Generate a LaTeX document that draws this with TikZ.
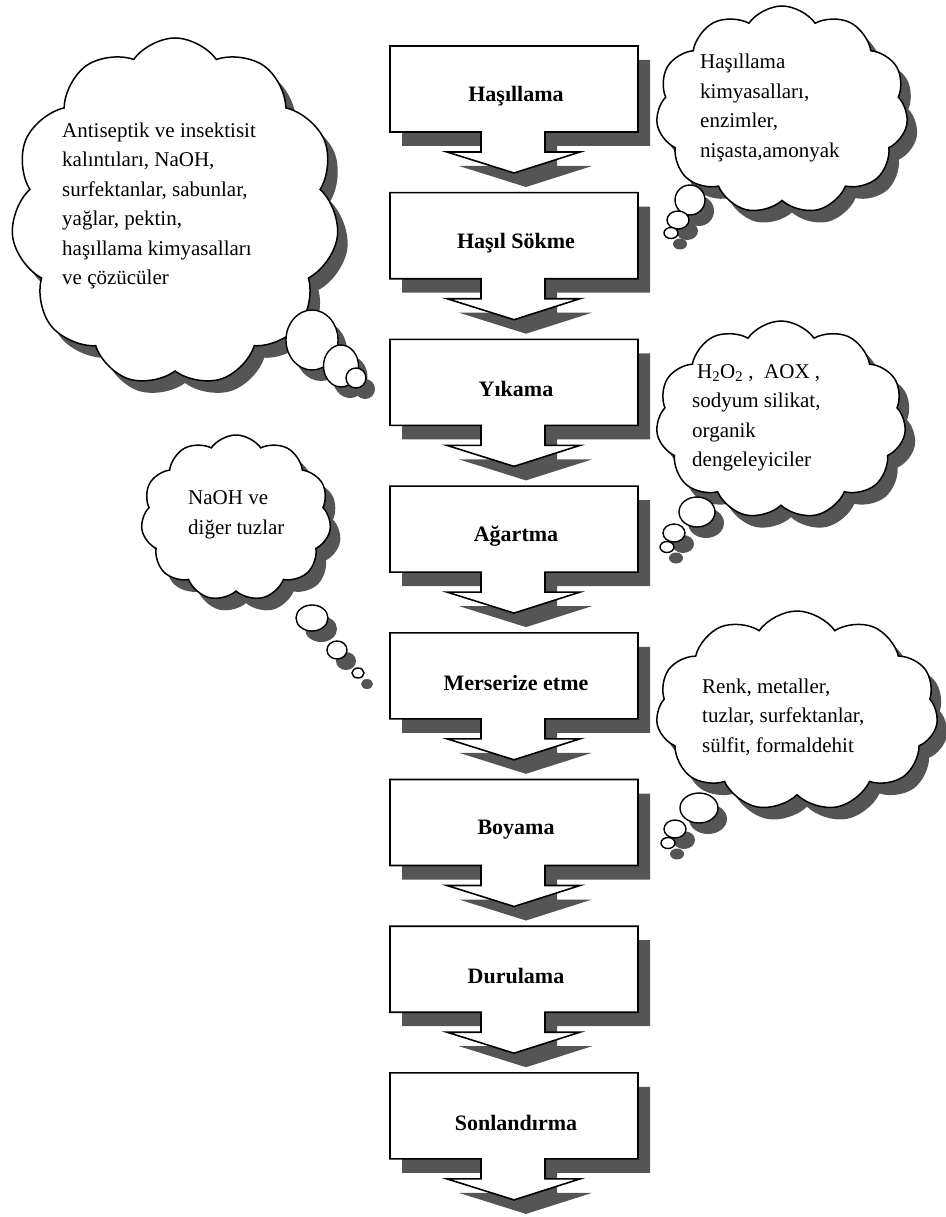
\documentclass[tikz,border=0pt]{standalone}
\usepackage{fontspec}
\setmainfont{Liberation Serif}
\usetikzlibrary{shapes.symbols,shapes.geometric,shadows}
\definecolor{shadowgray}{RGB}{85,85,85}
\begin{document}
\begin{tikzpicture}[x=1pt,y=-1pt,
  cloudshape/.style={cloud, cloud puffs=11, cloud puff arc=110, cloud ignores aspect, draw=black, line width=1.5pt, fill=white, inner sep=0pt,
    drop shadow={shadow xshift=10pt, shadow yshift=-12pt, fill=shadowgray, opacity=1}},
  bubble/.style={ellipse, draw=black, line width=1.4pt, fill=white, inner sep=0pt,
    drop shadow={shadow xshift=9pt, shadow yshift=-11pt, fill=shadowgray, opacity=1}},
  steptext/.style={font=\fontsize{22}{26}\selectfont\bfseries, inner sep=0pt},
  cloudtext/.style={font=\fontsize{21}{29.5}\selectfont, align=left, inner sep=0pt, anchor=west},
  stepline/.style={draw=black, line width=1.6pt, fill=white, line join=miter},
  stepshadow/.style={fill=shadowgray}
]
\useasboundingbox (0,0) rectangle (945,1217);

% process steps
\foreach \lab [count=\i] in {Haşıllama, Haşıl Sökme, Yıkama, Ağartma, Merserize etme, Boyama, Durulama, Sonlandırma} {
  \pgfmathsetmacro\T{46+146.7*(\i-1)}
  \begin{scope}[shift={(0,\T)}]
    \fill[stepshadow, shift={(12,14)}] (390,0) -- (638,0) -- (638,86) -- (545,86) -- (545,106) -- (580,106) -- (514,127) -- (447,106) -- (481,106) -- (481,86) -- (390,86) -- cycle;
    \draw[stepline] (390,0) -- (638,0) -- (638,86) -- (545,86) -- (545,106) -- (580,106) -- (514,127) -- (447,106) -- (481,106) -- (481,86) -- (390,86) -- cycle;
    \node[steptext] (s\i) at (516,50) {\lab};
  \end{scope}
}

% cloud 1
\node[cloudshape, minimum width=252pt, minimum height=208pt] (c1) at (782,110) {};
\node[bubble, minimum width=30pt, minimum height=30pt] (c1a) at (690,200) {};
\node[bubble, minimum width=22pt, minimum height=18pt] (c1b) at (678,220) {};
\node[bubble, minimum width=14pt, minimum height=11pt] (c1c) at (671,233) {};
\node[cloudtext] (t1) at (700,108) {Haşıllama\\kimyasalları,\\enzimler,\\nişasta,amonyak};

% cloud 2
\node[cloudshape, minimum width=328pt, minimum height=348pt] (c2) at (175,212) {};
\node[bubble, minimum width=52pt, minimum height=60pt] (c2a) at (312,340) {};
\node[bubble, minimum width=35pt, minimum height=42pt] (c2b) at (341,366) {};
\node[bubble, minimum width=20pt, minimum height=20pt] (c2c) at (356,378) {};
\node[cloudtext] (t2) at (62,206) {Antiseptik ve insektisit\\kalıntıları, NaOH,\\surfektanlar, sabunlar,\\yağlar, pektin,\\haşıllama kimyasalları\\ve çözücüler};

% cloud 3
\node[cloudshape, minimum width=250pt, minimum height=198pt] (c3) at (781,420) {};
\node[bubble, minimum width=36pt, minimum height=30pt] (c3a) at (697,512) {};
\node[bubble, minimum width=22pt, minimum height=18pt] (c3b) at (674,533) {};
\node[bubble, minimum width=14pt, minimum height=11pt] (c3c) at (667,547) {};
\node[cloudtext] (t3) at (692,418) {\hspace{5pt}H\textsubscript{2}O\textsubscript{2} ,\ \ AOX ,\\sodyum silikat,\\organik\\dengeleyiciler};

% cloud 4
\node[cloudshape, minimum width=190pt, minimum height=166pt] (c4) at (236,518) {};
\node[bubble, minimum width=32pt, minimum height=26pt] (c4a) at (312,618) {};
\node[bubble, minimum width=20pt, minimum height=18pt] (c4b) at (337,650) {};
\node[bubble, minimum width=12pt, minimum height=10pt] (c4c) at (358,673) {};
\node[cloudtext] (t4) at (188,515) {NaOH ve\\diğer tuzlar};

% cloud 5
\node[cloudshape, minimum width=282pt, minimum height=200pt] (c5) at (797,711) {};
\node[bubble, minimum width=38pt, minimum height=30pt] (c5a) at (699,808) {};
\node[bubble, minimum width=22pt, minimum height=18pt] (c5b) at (675,829) {};
\node[bubble, minimum width=14pt, minimum height=11pt] (c5c) at (668,843) {};
\node[cloudtext] (t5) at (702,717) {Renk, metaller,\\tuzlar, surfektanlar,\\sülfit, formaldehit};
\end{tikzpicture}
\end{document}
